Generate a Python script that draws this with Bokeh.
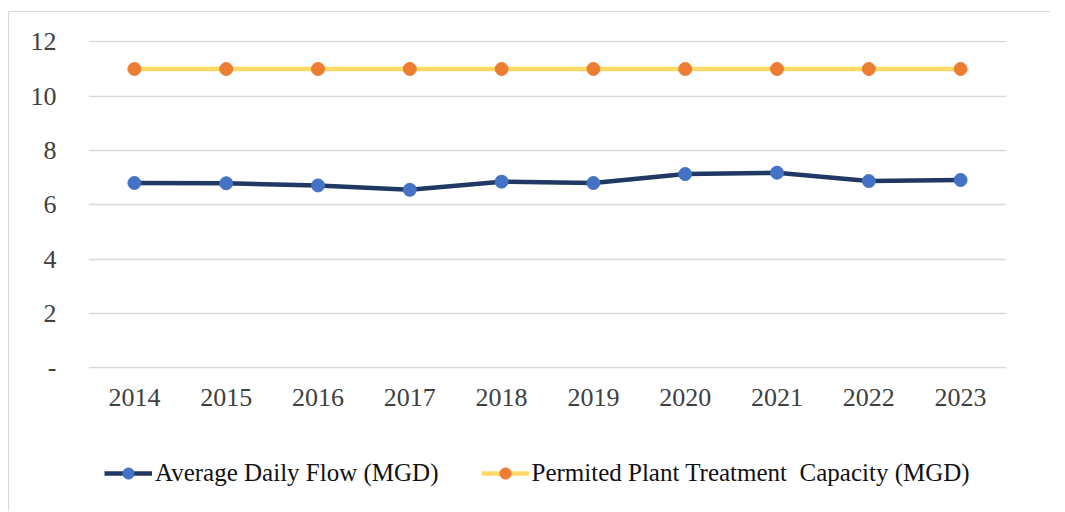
from bokeh.plotting import figure
from bokeh.models import FactorRange, Range1d, FixedTicker, Legend, LegendItem
from bokeh.embed import file_html
from bokeh.resources import INLINE

years = ["2014", "2015", "2016", "2017", "2018", "2019", "2020", "2021", "2022", "2023"]
avg_daily_flow = [6.80, 6.79, 6.71, 6.55, 6.85, 6.80, 7.13, 7.18, 6.87, 6.91]
permitted_capacity = [11, 11, 11, 11, 11, 11, 11, 11, 11, 11]
y_ticks = [0, 2, 4, 6, 8, 10, 12]
y_tick_labels = {0: "-", 2: "2", 4: "4", 6: "6", 8: "8", 10: "10", 12: "12"}

FONT = "Liberation Serif"

# frame extends below the value area so that the legend fits inside it;
# the x axis is pinned at y = 0
p = figure(
    x_range=FactorRange(*years, range_padding=0),
    y_range=Range1d(-4.75, 12.05),
    frame_width=918, frame_height=456,
    min_border_left=79, min_border_right=45, min_border_top=28, min_border_bottom=16,
    output_backend="svg", toolbar_location=None,
)
p.styles = {"margin-left": "9px", "margin-top": "12px", "box-shadow": "-1px -1px 0 0 #d9d9d9"}
p.outline_line_color = None
p.background_fill_color = "white"
p.border_fill_color = "white"

p.xgrid.grid_line_color = None
p.ygrid.grid_line_color = "#d9d9d9"
p.ygrid.grid_line_width = 1.3

p.yaxis.ticker = FixedTicker(ticks=y_ticks)
p.yaxis.major_label_overrides = y_tick_labels
p.xaxis.fixed_location = 0
for ax in (p.xaxis[0], p.yaxis[0]):
    ax.axis_line_color = None
    ax.major_tick_line_color = None
    ax.minor_tick_line_color = None
    ax.major_label_text_font = FONT
    ax.major_label_text_font_size = "26px"
    ax.major_label_text_color = "#404040"
p.yaxis.major_label_standoff = 26
p.xaxis.major_label_standoff = 15

l1 = p.line(years, avg_daily_flow, line_color="#203864", line_width=4.5)
s1 = p.scatter(years, avg_daily_flow, size=13, fill_color="#4472C4", line_color="#4472C4")
l2 = p.line(years, permitted_capacity, line_color="#FFD966", line_width=4.5)
s2 = p.scatter(years, permitted_capacity, size=13, fill_color="#ED7D31", line_color="#ED7D31")

legend = Legend(
    items=[
        LegendItem(label="Average Daily Flow (MGD)", renderers=[l1, s1]),
        LegendItem(label="Permited Plant Treatment  Capacity (MGD)", renderers=[l2, s2]),
    ],
    orientation="horizontal",
    location=(16, 9),
    border_line_color=None,
    background_fill_alpha=0,
    glyph_width=48,
    glyph_height=28,
    label_height=28,
    label_standoff=3,
    spacing=42,
    padding=0,
    margin=0,
    label_text_font=FONT,
    label_text_font_size="25px",
    label_text_color="#111111",
)
p.add_layout(legend)

open("out.html", "w").write(file_html(p, INLINE))
